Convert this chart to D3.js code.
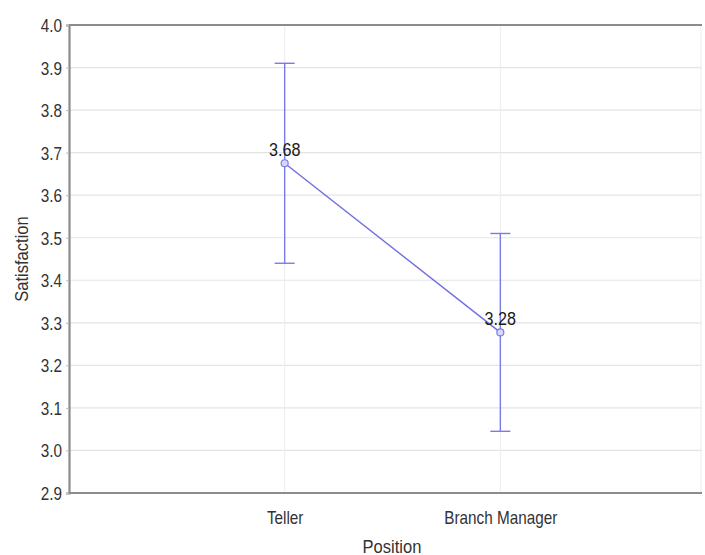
<!DOCTYPE html>
<html>
<head>
<meta charset="utf-8">
<script src="https://cdn.jsdelivr.net/npm/d3@7"></script>
<style>
  html, body { margin: 0; padding: 0; background: #fff; }
  svg { display: block; }
  text { font-family: "Liberation Sans", Arial, sans-serif; }
</style>
</head>
<body>
<svg id="chart" width="705" height="555"></svg>
<script>
// Mean satisfaction by position, with interval bounds
const categories = ["Teller", "Branch Manager"];
const means = [3.675, 3.2775];
const meanLabels = ["3.68", "3.28"];
const lower = [3.44, 3.045];
const upper = [3.91, 3.51];
const yTicks = [2.9, 3.0, 3.1, 3.2, 3.3, 3.4, 3.5, 3.6, 3.7, 3.8, 3.9, 4.0];

const svg = d3.select("#chart");
const plotLeft = 69, plotTop = 25, plotBottom = 493, frameRight = 702;
const narrow = 0.85; // horizontal squeeze for a condensed look

const x = d3.scalePoint().domain(categories).range([plotLeft, 716]).padding(1);
const y = d3.scaleLinear().domain([2.9, 4.0]).range([plotBottom, plotTop]);

const lineColor = "#7a7ae8";
const axisColor = "#8c8c8c";

// horizontal grid
svg.append("g").selectAll("line").data(yTicks.slice(1, -1)).join("line")
  .attr("x1", plotLeft).attr("x2", frameRight)
  .attr("y1", d => y(d)).attr("y2", d => y(d))
  .attr("stroke", "#e4e4e4").attr("stroke-width", 1.2);

// vertical grid at categories
svg.append("g").selectAll("line").data(categories).join("line")
  .attr("x1", d => x(d)).attr("x2", d => x(d))
  .attr("y1", plotTop).attr("y2", plotBottom)
  .attr("stroke", "#ececf4").attr("stroke-width", 1);

// faint right border
svg.append("line")
  .attr("x1", frameRight - 1).attr("x2", frameRight - 1)
  .attr("y1", plotTop).attr("y2", plotBottom)
  .attr("stroke", "#ececec").attr("stroke-width", 1);

// y axis
const yAxis = d3.axisLeft(y).tickValues(yTicks).tickFormat(d3.format(".1f")).tickSize(3).tickPadding(4);
const gy = svg.append("g").attr("transform", `translate(${plotLeft},0)`).call(yAxis);
gy.select(".domain").attr("stroke", axisColor).attr("stroke-width", 2.2);
gy.selectAll(".tick line").attr("stroke", "#bbb");
gy.selectAll(".tick text")
  .attr("fill", "#333").attr("font-size", 18)
  .attr("x", -7 / narrow).attr("dy", "0.36em")
  .attr("transform", `scale(${narrow},1)`);

// x axis
const xAxis = d3.axisBottom(x).tickSize(0);
const gx = svg.append("g").attr("transform", `translate(0,${plotBottom})`).call(xAxis);
gx.select(".domain").attr("stroke", axisColor).attr("stroke-width", 2.2)
  .attr("d", `M${plotLeft},0H${frameRight}`);
gx.selectAll(".tick text")
  .attr("fill", "#333").attr("font-size", 18)
  .attr("y", 31).attr("dy", 0)
  .attr("transform", `scale(${narrow},1)`);

// top frame line
svg.append("line")
  .attr("x1", plotLeft).attr("x2", frameRight)
  .attr("y1", plotTop).attr("y2", plotTop)
  .attr("stroke", axisColor).attr("stroke-width", 2.2);

// error bars
const eb = svg.append("g").attr("stroke", lineColor).attr("stroke-width", 1.4);
categories.forEach((c, i) => {
  eb.append("line").attr("x1", x(c)).attr("x2", x(c)).attr("y1", y(upper[i])).attr("y2", y(lower[i]));
  eb.append("line").attr("x1", x(c) - 10).attr("x2", x(c) + 10).attr("y1", y(upper[i])).attr("y2", y(upper[i]));
  eb.append("line").attr("x1", x(c) - 10).attr("x2", x(c) + 10).attr("y1", y(lower[i])).attr("y2", y(lower[i]));
});

// connecting line
const pts = categories.map((c, i) => [x(c), y(means[i])]);
svg.append("path").attr("d", d3.line()(pts))
  .attr("fill", "none").attr("stroke", "#6e6ee0").attr("stroke-width", 1.4);

// markers
svg.append("g").selectAll("circle").data(pts).join("circle")
  .attr("cx", d => d[0]).attr("cy", d => d[1]).attr("r", 3.5)
  .attr("fill", "#d8d8fa").attr("stroke", lineColor).attr("stroke-width", 1.2);

// value labels
svg.append("g").selectAll("g").data(categories).join("g")
  .attr("transform", (d, i) => `translate(${x(d)},${y(means[i]) - 7.5}) scale(${narrow},1)`)
  .append("text")
  .attr("text-anchor", "middle").attr("font-size", 19).attr("fill", "#1a1a1a")
  .text((d, i) => meanLabels[i]);

// axis titles
svg.append("text")
  .attr("transform", `translate(28,${(plotTop + plotBottom) / 2}) rotate(-90) scale(0.92,1)`)
  .attr("text-anchor", "middle").attr("font-size", 18).attr("fill", "#333")
  .text("Satisfaction");
svg.append("text")
  .attr("transform", `translate(392,553) scale(0.92,1)`)
  .attr("text-anchor", "middle").attr("font-size", 18).attr("fill", "#333")
  .text("Position");
</script>
</body>
</html>
